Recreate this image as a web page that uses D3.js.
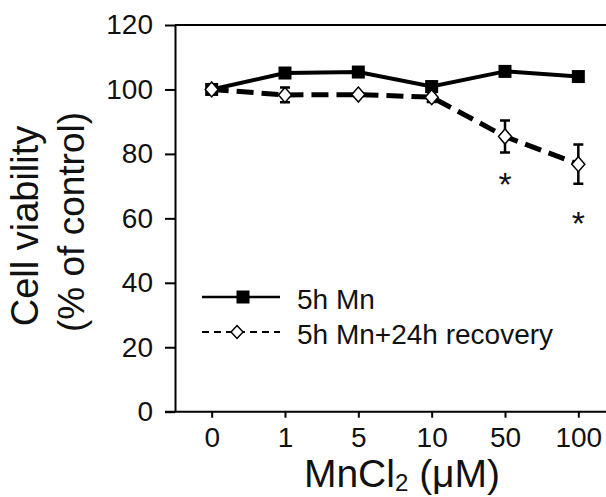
<!DOCTYPE html>
<html>
<head>
<meta charset="utf-8">
<script src="https://cdn.jsdelivr.net/npm/d3@7"></script>
<style>
  body { margin: 0; background: #fff; }
  svg { display: block; font-family: "Liberation Sans", Arial, sans-serif; }
</style>
</head>
<body>
<div id="chart"></div>
<script>
// doses (x categories) and viability values
const doses = ['0', '1', '5', '10', '50', '100'];
const mnOnly = [100, 105.1, 105.4, 100.9, 105.6, 104.0];
const mnRecovery = [100, 98.3, 98.4, 97.6, 85.4, 76.8];
const recoveryErr = [0, 2.3, 0.5, 1.5, 5.0, 6.1];
// significance marks: dose and height of the asterisk (in % units)
const sigDoses = ['50', '100'];
const sigLevels = [72.9, 60.8];
const yTicks = [0, 20, 40, 60, 80, 100, 120];
const legendLabels = ['5h Mn', '5h Mn+24h recovery'];

const width = 606;
const height = 497;
const margin = { top: 25, left: 175, bottom: 85 };

const svg = d3.select('#chart')
  .append('svg')
  .attr('width', width)
  .attr('height', height);

// plot continues past the right edge of the picture
const x = d3.scalePoint()
  .domain(doses)
  .range([margin.left, 615])
  .padding(0.5);

const y = d3.scaleLinear()
  .domain([0, 120])
  .range([height - margin.bottom - 0.3, margin.top]);

// frame (top line)
svg.append('line')
  .attr('x1', margin.left).attr('x2', 615)
  .attr('y1', y(120)).attr('y2', y(120))
  .attr('stroke', '#000').attr('stroke-width', 2);

const yAxis = svg.append('g')
  .attr('transform', `translate(${margin.left},0)`)
  .call(d3.axisLeft(y).tickValues(yTicks).tickSize(10).tickPadding(12).tickSizeOuter(0));

const xAxis = svg.append('g')
  .attr('transform', `translate(0,${y(0)})`)
  .call(d3.axisBottom(x).tickSize(6).tickPadding(9).tickSizeOuter(0));

xAxis.select('.domain').attr('d', `M${margin.left - 10},0H615`);

[yAxis, xAxis].forEach((g) => {
  g.selectAll('path, line').attr('stroke', '#000').attr('stroke-width', 2);
  g.selectAll('text')
    .attr('fill', '#111')
    .style('font-size', '28px')
    .style('font-family', '"Liberation Sans", Arial, sans-serif');
});

// axis titles
svg.append('text')
  .attr('transform', 'translate(38,226) rotate(-90)')
  .attr('text-anchor', 'middle')
  .style('font-size', '38px')
  .attr('fill', '#111')
  .text('Cell viability');

svg.append('text')
  .attr('transform', 'translate(84,222) rotate(-90)')
  .attr('text-anchor', 'middle')
  .style('font-size', '37px')
  .attr('fill', '#111')
  .text('(% of control)');

const xTitle = svg.append('text')
  .attr('x', 402)
  .attr('y', 487)
  .attr('text-anchor', 'middle')
  .style('font-size', '39px')
  .attr('fill', '#111');
xTitle.append('tspan').text('MnCl');
xTitle.append('tspan').attr('dy', 4).style('font-size', '24px').text('2');
xTitle.append('tspan').attr('dy', -4).text(' (μM)');

// series
const line = d3.line()
  .x((d, i) => x(doses[i]))
  .y((d) => y(d));

svg.append('path')
  .datum(mnOnly)
  .attr('d', line)
  .attr('fill', 'none')
  .attr('stroke', '#000')
  .attr('stroke-width', 4);

svg.selectAll('.sq')
  .data(mnOnly)
  .enter()
  .append('rect')
  .attr('class', 'sq')
  .attr('x', (d, i) => x(doses[i]) - 6.5)
  .attr('y', (d) => y(d) - 6.5)
  .attr('width', 13)
  .attr('height', 13)
  .attr('fill', '#000');

svg.append('path')
  .datum(mnRecovery)
  .attr('d', line)
  .attr('fill', 'none')
  .attr('stroke', '#000')
  .attr('stroke-width', 5)
  .attr('stroke-dasharray', '17,8');

const errData = mnRecovery
  .map((v, i) => ({ dose: doses[i], value: v, err: recoveryErr[i] }))
  .filter((d) => d.err > 0);

svg.selectAll('.err')
  .data(errData)
  .enter()
  .append('path')
  .attr('class', 'err')
  .attr('d', (d) => {
    const cx = x(d.dose);
    const top = y(d.value + d.err);
    const bot = y(d.value - d.err);
    return `M${cx},${top}V${bot}M${cx - 5},${top}H${cx + 5}M${cx - 5},${bot}H${cx + 5}`;
  })
  .attr('stroke', '#000')
  .attr('stroke-width', 2.5)
  .attr('fill', 'none');

svg.selectAll('.dia')
  .data(mnRecovery)
  .enter()
  .append('path')
  .attr('class', 'dia')
  .attr('d', (d, i) => {
    const cx = x(doses[i]);
    const cy = y(d);
    return `M${cx},${cy - 7.5}L${cx + 6.5},${cy}L${cx},${cy + 7.5}L${cx - 6.5},${cy}Z`;
  })
  .attr('fill', '#fff')
  .attr('stroke', '#000')
  .attr('stroke-width', 1.5);

// asterisks
svg.selectAll('.sig')
  .data(sigLevels)
  .enter()
  .append('text')
  .attr('class', 'sig')
  .attr('x', (d, i) => x(sigDoses[i]))
  .attr('y', (d) => y(d) + 0.57 * 34)
  .attr('text-anchor', 'middle')
  .style('font-size', '34px')
  .attr('fill', '#111')
  .text('*');

// legend
const legend = svg.append('g');
const rows = [
  { y: 297, dash: null, width: 2.5 },
  { y: 332, dash: '7,5', width: 2 },
];

rows.forEach((r, i) => {
  legend.append('line')
    .attr('x1', 202).attr('x2', 280)
    .attr('y1', r.y).attr('y2', r.y)
    .attr('stroke', '#000')
    .attr('stroke-width', r.width)
    .attr('stroke-dasharray', r.dash);
  legend.append('text')
    .attr('x', 297)
    .attr('y', r.y + 11.5)
    .style('font-size', '28px')
    .attr('fill', '#111')
    .text(legendLabels[i]);
});

legend.append('rect')
  .attr('x', 236.5).attr('y', 297 - 6.5)
  .attr('width', 13).attr('height', 13)
  .attr('fill', '#000');

legend.append('path')
  .attr('d', 'M237,325.5L243,332L237,338.5L231,332Z')
  .attr('fill', '#fff')
  .attr('stroke', '#000')
  .attr('stroke-width', 1.5);
</script>
</body>
</html>
